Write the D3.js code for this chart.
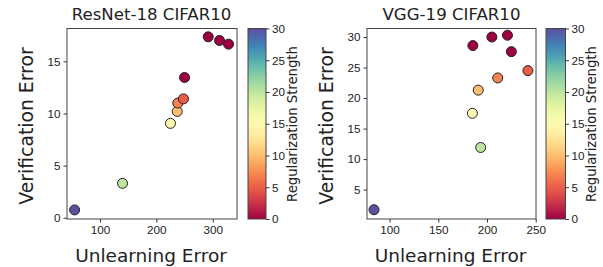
<!DOCTYPE html>
<html>
<head>
<meta charset="utf-8">
<script src="https://cdn.jsdelivr.net/npm/d3@7"></script>
<style>
  body { margin: 0; background: #fff; }
  svg { font-family: "DejaVu Sans", sans-serif; }
</style>
</head>
<body>
<div id="chart"></div>
<script>
// data
const resnetUnlearn = [55, 140, 225, 237, 238, 248, 250, 292, 312, 328];
const resnetVerify  = [0.75, 3.3, 9.05, 10.2, 11.0, 11.4, 13.45, 17.35, 17.0, 16.65];
const resnetReg     = [30, 20, 15, 10, 7, 5, 0, 0, 0, 0];

const vggUnlearn = [84, 193.5, 185, 191, 211, 242, 185.5, 205, 221, 225];
const vggVerify  = [1.7, 11.9, 17.5, 21.3, 23.3, 24.5, 28.6, 30.0, 30.3, 27.6];
const vggReg     = [30, 20, 15, 10, 7, 5, 0, 0, 0, 0];

const regTicks = [0, 5, 10, 15, 20, 25, 30];

const panels = [
  { title: 'ResNet-18 CIFAR10', x: resnetUnlearn, y: resnetVerify, c: resnetReg,
    left: 67, right: 237, xDomain: [41.5, 343], yDomain: [-0.12, 18.15],
    xTicks: [100, 200, 300], yTicks: [0, 5, 10, 15],
    cbLeft: 248, cbRight: 266, yLabelX: 33, titleX: 151.5 },
  { title: 'VGG-19 CIFAR10', x: vggUnlearn, y: vggVerify, c: vggReg,
    left: 367, right: 536, xDomain: [76.8, 250.3], yDomain: [0.18, 31.4],
    xTicks: [100, 150, 200, 250], yTicks: [5, 10, 15, 20, 25, 30],
    cbLeft: 546, cbRight: 565.5, yLabelX: 333, titleX: 451.5 }
];

const plotTop = 28.5, plotBottom = 219;
const color = d3.scaleSequential(d3.interpolateSpectral).domain([0, 30]);

const svg = d3.select('#chart').append('svg')
  .attr('width', 603).attr('height', 267);

const defs = svg.append('defs');
const grad = defs.append('linearGradient')
  .attr('id', 'spectral')
  .attr('x1', 0).attr('y1', 1).attr('x2', 0).attr('y2', 0);
d3.range(0, 1.0001, 0.05).forEach(t => {
  grad.append('stop').attr('offset', t).attr('stop-color', d3.interpolateSpectral(t));
});

panels.forEach(p => {
  const x = d3.scaleLinear().domain(p.xDomain).range([p.left, p.right]);
  const y = d3.scaleLinear().domain(p.yDomain).range([plotBottom, plotTop]);

  const g = svg.append('g');

  g.append('g')
    .attr('transform', `translate(0,${plotBottom})`)
    .call(d3.axisBottom(x).tickValues(p.xTicks).tickSize(3.5).tickPadding(3))
    .call(a => a.select('.domain').remove())
    .call(a => a.selectAll('text').attr('font-size', 11.7).attr('fill', '#222'))
    .call(a => a.selectAll('line').attr('stroke', '#333'));

  g.append('g')
    .attr('transform', `translate(${p.left},0)`)
    .call(d3.axisLeft(y).tickValues(p.yTicks).tickSize(3.5).tickPadding(3))
    .call(a => a.select('.domain').remove())
    .call(a => a.selectAll('text').attr('font-size', 11.7).attr('fill', '#222'))
    .call(a => a.selectAll('line').attr('stroke', '#333'));

  g.append('rect')
    .attr('x', p.left).attr('y', plotTop)
    .attr('width', p.right - p.left).attr('height', plotBottom - plotTop)
    .attr('fill', 'none').attr('stroke', '#444').attr('stroke-width', 1);

  const pts = p.x.map((d, i) => ({ u: d, v: p.y[i], r: p.c[i] }));
  g.selectAll('circle.pt')
    .data(pts)
    .enter().append('circle')
    .attr('class', 'pt')
    .attr('cx', d => x(d.u))
    .attr('cy', d => y(d.v))
    .attr('r', 5)
    .attr('fill', d => color(d.r))
    .attr('stroke', '#222')
    .attr('stroke-width', 1);

  g.append('text')
    .attr('x', p.titleX).attr('y', 20)
    .attr('text-anchor', 'middle')
    .attr('font-size', 16.6).attr('fill', '#222')
    .text(p.title);

  g.append('text')
    .attr('x', (p.left + p.right) / 2 - 1).attr('y', 261.5)
    .attr('text-anchor', 'middle')
    .attr('font-size', 18.5).attr('fill', '#222')
    .text('Unlearning Error');

  g.append('text')
    .attr('transform', `translate(${p.yLabelX},126) rotate(-90)`)
    .attr('text-anchor', 'middle')
    .attr('font-size', 18.8).attr('fill', '#222')
    .text('Verification Error');

  // colorbar
  const cy = d3.scaleLinear().domain([0, 30]).range([plotBottom, plotTop]);
  g.append('rect')
    .attr('x', p.cbLeft).attr('y', plotTop)
    .attr('width', p.cbRight - p.cbLeft).attr('height', plotBottom - plotTop)
    .attr('fill', 'url(#spectral)')
    .attr('stroke', '#444').attr('stroke-width', 1);

  g.append('g')
    .attr('transform', `translate(${p.cbRight},0)`)
    .call(d3.axisRight(cy).tickValues(regTicks).tickSize(3.5).tickPadding(2.5))
    .call(a => a.select('.domain').remove())
    .call(a => a.selectAll('text').attr('font-size', 11.7).attr('fill', '#222'))
    .call(a => a.selectAll('line').attr('stroke', '#333'));

  g.append('text')
    .attr('transform', `translate(${p.cbRight + 30.5},124) rotate(-90)`)
    .attr('text-anchor', 'middle')
    .attr('font-size', 13.2).attr('fill', '#222')
    .text('Regularization Strength');
});
</script>
</body>
</html>
